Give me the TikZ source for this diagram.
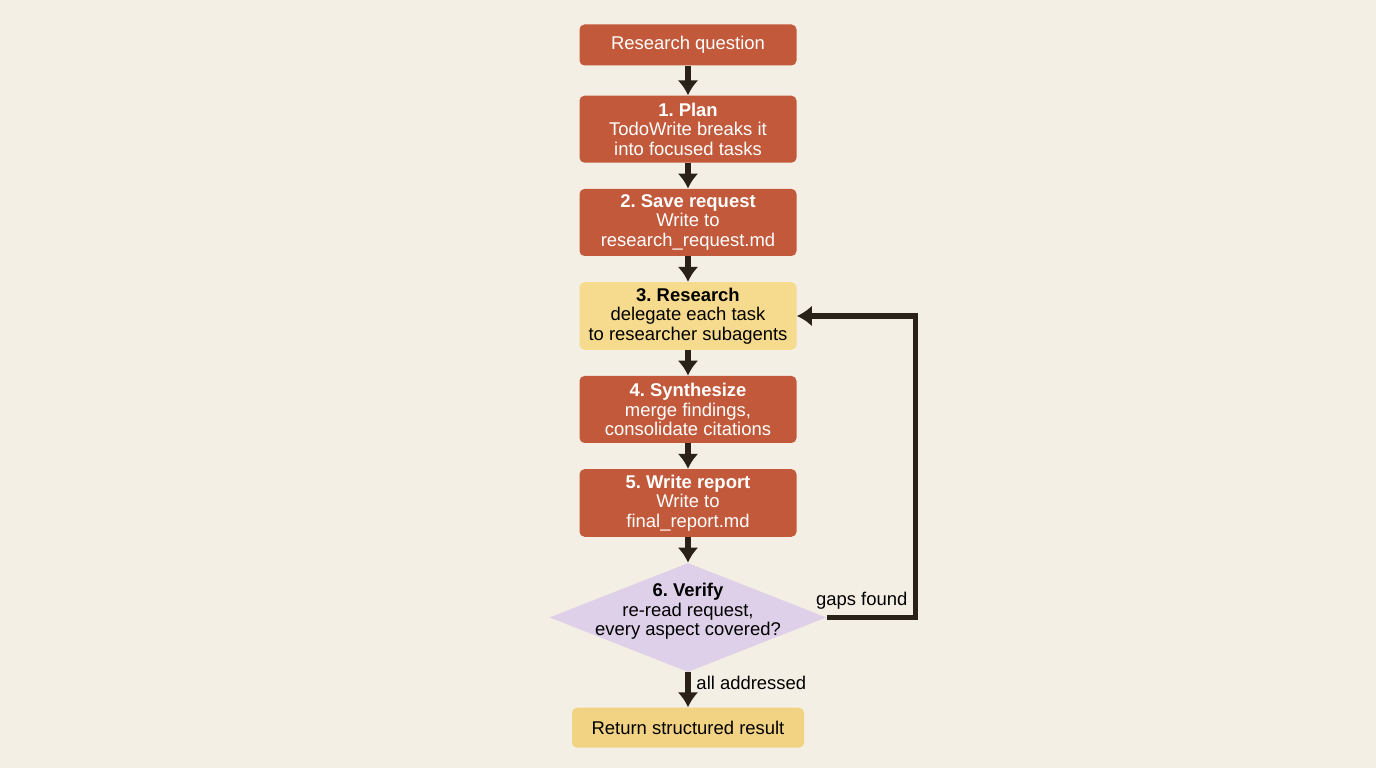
\documentclass[tikz,border=0pt]{standalone}
\usepackage{fontspec}
\setmainfont{Liberation Sans}
\usepackage{xcolor}
\definecolor{rfbg}{HTML}{F4EFE4}
\definecolor{rforange}{HTML}{C1593A}
\definecolor{rfyellow}{HTML}{F6DB8E}
\definecolor{rfgold}{HTML}{F2D383}
\definecolor{rflilac}{HTML}{DED0E8}
\definecolor{rfink}{HTML}{2A2118}
\usetikzlibrary{arrows.meta,positioning,shapes.geometric}
\frenchspacing

\begin{document}
\begin{tikzpicture}[>={Latex[length=3mm,width=4.2mm]},node distance=5.1mm]
\tikzset{
 stepbox/.style={fill=rforange,text=white,rounded corners=1mm,minimum width=4.34cm,minimum height=1.34cm,align=center,font=\fontsize{10.5}{11}\selectfont},
 hot/.style={stepbox,fill=rfyellow,text=black},
 check/.style={diamond,fill=rflilac,inner sep=0pt,minimum width=5.54cm,minimum height=2.18cm},
 endbox/.style={fill=rfgold,rounded corners=1mm,minimum width=4.64cm,minimum height=8mm,font=\fontsize{10.5}{11}\selectfont},
 arrow/.style={->,draw=rfink,line width=3pt},
 note/.style={font=\fontsize{10.5}{11}\selectfont}
}
\useasboundingbox[fill=rfbg] (-13.76,0.9) rectangle (13.76,-14.46);
\node[stepbox,minimum height=8.2mm] (s0) at (0,0) {Research question};
\node[stepbox,below=5.9mm of s0] (s1) {\textbf{1. Plan}\\TodoWrite breaks it\\into focused tasks};
\node[stepbox,below=of s1] (s2) {\textbf{2. Save request}\\Write to\\research\_request.md};
\node[hot,below=of s2] (s3) {\textbf{3. Research}\\delegate each task\\to researcher subagents};
\node[stepbox,below=of s3] (s4) {\textbf{4. Synthesize}\\merge findings,\\consolidate citations};
\node[stepbox,below=of s4] (s5) {\textbf{5. Write report}\\Write to\\final\_report.md};
\node[check,below=of s5,label={[note,align=center,yshift=1.2mm]center:{\textbf{6. Verify}\\re-read request,\\every aspect covered?}}] (s6) {};
\node[endbox,below=7mm of s6] (s7) {Return structured result};
\draw[arrow] (s0)--(s1);
\draw[arrow] (s1)--(s2);
\draw[arrow] (s2)--(s3);
\draw[arrow] (s3)--(s4);
\draw[arrow] (s4)--(s5);
\draw[arrow] (s5)--(s6);
\draw[arrow] (s6)--node[note,right,yshift=1.3mm]{all addressed}(s7);
\draw[arrow] (s6.east)--++(1.78,0) coordinate (c1) node[note,above left]{gaps found} |- (s3.east);
\end{tikzpicture}
\end{document}
